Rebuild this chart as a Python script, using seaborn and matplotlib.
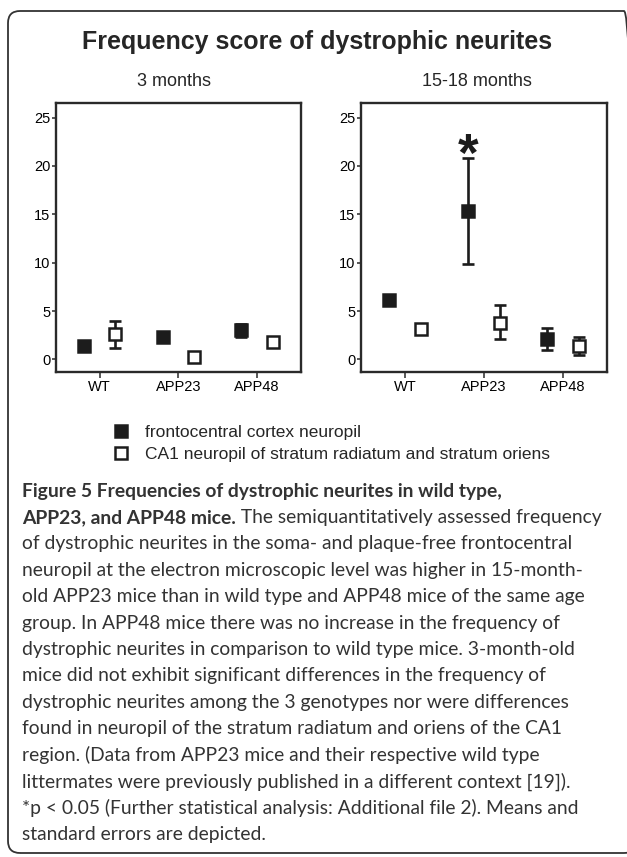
import matplotlib
matplotlib.use("Agg")
import matplotlib.pyplot as plt
from matplotlib.patches import FancyBboxPatch
from matplotlib.transforms import IdentityTransform
import numpy as np
import pandas as pd
import seaborn as sns

W, H = 627, 857

periods = ["3 months", "15-18 months"]
genotypes = ["WT", "APP23", "APP48"]
regions = ["frontocentral cortex neuropil",
           "CA1 neuropil of stratum radiatum and stratum oriens"]

# mean frequency score and the ends of the error bar (mean -/+ SE)
mean_3m_cortex = [1.4, 2.3, 3.0]
lo_3m_cortex = [1.4, 2.3, 2.3]
hi_3m_cortex = [1.4, 2.3, 3.7]
mean_3m_ca1 = [2.6, 0.3, 1.8]
lo_3m_ca1 = [1.2, 0.3, 1.8]
hi_3m_ca1 = [4.0, 0.3, 1.8]

mean_15m_cortex = [6.1, 15.3, 2.1]
lo_15m_cortex = [6.1, 9.9, 1.0]
hi_15m_cortex = [6.1, 20.8, 3.2]
mean_15m_ca1 = [3.1, 3.8, 1.4]
lo_15m_ca1 = [3.1, 2.1, 0.5]
hi_15m_ca1 = [3.1, 5.6, 2.3]

star_height = 20.9   # text anchor of the * above APP23 cortex at 15-18 months

caption_lines = [
    "of dystrophic neurites in the soma- and plaque-free frontocentral",
    "neuropil at the electron microscopic level was higher in 15-month-",
    "old APP23 mice than in wild type and APP48 mice of the same age",
    "group. In APP48 mice there was no increase in the frequency of",
    "dystrophic neurites in comparison to wild type mice. 3-month-old",
    "mice did not exhibit significant differences in the frequency of",
    "dystrophic neurites among the 3 genotypes nor were differences",
    "found in neuropil of the stratum radiatum and oriens of the CA1",
    "region. (Data from APP23 mice and their respective wild type",
    "littermates were previously published in a different context [19]).",
    "*p < 0.05 (Further statistical analysis: Additional file 2). Means and",
    "standard errors are depicted.",
]
caption_bold_1 = "Figure 5 Frequencies of dystrophic neurites in wild type,"
caption_bold_2 = "APP23, and APP48 mice."
caption_rest_2 = " The semiquantitatively assessed frequency"

rows = []
for period, parts in zip(periods, [
        [(mean_3m_cortex, lo_3m_cortex, hi_3m_cortex), (mean_3m_ca1, lo_3m_ca1, hi_3m_ca1)],
        [(mean_15m_cortex, lo_15m_cortex, hi_15m_cortex), (mean_15m_ca1, lo_15m_ca1, hi_15m_ca1)]]):
    for region, (m, lo, hi) in zip(regions, parts):
        for g, a, b, c in zip(genotypes, m, lo, hi):
            rows.append(dict(period=period, genotype=g, region=region, mean=a, lo=b, hi=c))
df = pd.DataFrame(rows)

sns.set_style("ticks")
plt.rcParams["font.family"] = ["Liberation Sans", "DejaVu Sans"]
ink = "#1c1c1c"

fig = plt.figure(figsize=(W / 100, H / 100), dpi=100)


def px(x0, y_top, x1, y_bot):
    return [x0 / W, 1 - y_bot / H, (x1 - x0) / W, (y_bot - y_top) / H]


axes = [fig.add_axes(px(55.7, 103.3, 300.5, 372.3)),
        fig.add_axes(px(360.7, 103.3, 606.7, 372.3))]

for ax, period in zip(axes, periods):
    d = df[df.period == period]
    sns.pointplot(data=d, x="genotype", y="mean", hue="region", order=genotypes,
                  hue_order=regions, palette=[ink, "white"], errorbar=None, dodge=0.4,
                  linestyle="none", markers="s", markersize=9.3, markeredgewidth=1.8,
                  legend=False, ax=ax)
    pts = list(ax.lines)
    for line, region in zip(pts, regions):
        line.set_markeredgecolor(ink)
        line.set_zorder(4)
        sub = d[d.region == region].set_index("genotype").loc[genotypes]
        xs = np.asarray(line.get_xdata(), float)
        ys = sub["mean"].values
        ax.errorbar(xs, ys, yerr=[ys - sub["lo"].values, sub["hi"].values - ys],
                    fmt="none", ecolor=ink, elinewidth=1.9, capsize=4.5, capthick=1.9,
                    zorder=2)
    ax.set_xlim(-0.56, 2.555)
    ax.set_ylim(-1.33, 26.47)
    ax.set_yticks([0, 5, 10, 15, 20, 25])
    ax.set_xlabel("")
    ax.set_ylabel("")
    for s in ax.spines.values():
        s.set_visible(True)
        s.set_linewidth(1.7)
        s.set_color("#2a2a2a")
    ax.tick_params(axis="both", direction="out", length=4, width=1.1,
                   color="#2a2a2a", labelsize=10.5, labelcolor="black", pad=1.5)
    ax.tick_params(axis="y", length=3, pad=1)

# significance star above APP23 cortex, 15-18 months
star_x = np.asarray(axes[1].lines[0].get_xdata(), float)[genotypes.index("APP23")]
axes[1].text(star_x, star_height, "*", ha="center", va="center", fontsize=38,
             fontweight="bold", color=ink)

# panel titles and figure title
fig.text(174 / W, 1 - 82 / H, periods[0], ha="center", va="center", fontsize=13)
fig.text(477 / W, 1 - 82 / H, periods[1], ha="center", va="center", fontsize=13)
fig.text(317 / W, 1 - 42 / H, "Frequency score of dystrophic neurites", ha="center",
         va="center", fontsize=18, fontweight="bold")

# legend
fig.legend(axes[0].lines[:2], regions, loc="center left",
           bbox_to_anchor=(112 / W, 1 - 443.5 / H), frameon=False, fontsize=12.5,
           handlelength=1.0, handletextpad=0.9, labelspacing=0.4, borderpad=0,
           borderaxespad=0)

# caption
cap_font = ["Lato", "DejaVu Sans"]
cap_col = "#333333"
cap_size = 13.85
x0 = 22 / W
y_first = 491
step = 26.4
fig.text(x0, 1 - y_first / H, caption_bold_1, family=cap_font, fontsize=cap_size,
         fontweight="bold", color=cap_col, va="center")
t2 = fig.text(x0, 1 - (y_first + step) / H, caption_bold_2, family=cap_font,
              fontsize=cap_size, fontweight="bold", color=cap_col, va="center")
fig.canvas.draw()
bb = t2.get_window_extent(fig.canvas.get_renderer())
fig.text(bb.x1 / W, 1 - (y_first + step) / H, caption_rest_2, family=cap_font,
         fontsize=cap_size, color=cap_col, va="center")
for i, line in enumerate(caption_lines):
    fig.text(x0, 1 - (y_first + step * (i + 2)) / H, line, family=cap_font,
             fontsize=cap_size, color=cap_col, va="center")

# rounded frame round the whole figure
fig.add_artist(FancyBboxPatch((8, H - 853), 628, 842,
                              boxstyle="round,pad=0,rounding_size=12",
                              transform=IdentityTransform(), fill=False,
                              edgecolor="#333333", linewidth=1.3))

fig.savefig("out.png", dpi=100)
